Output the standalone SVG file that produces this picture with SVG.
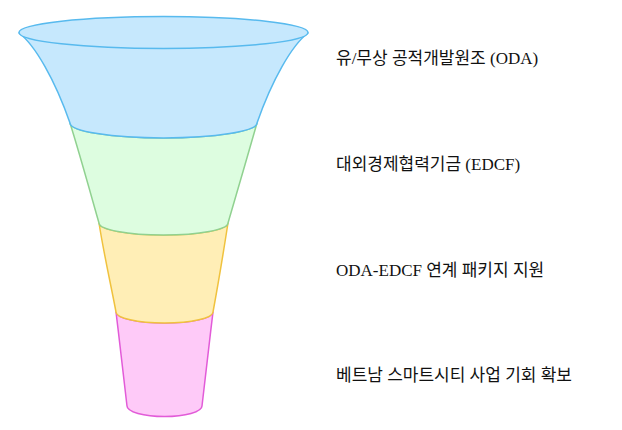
<svg xmlns="http://www.w3.org/2000/svg" width="622" height="430" viewBox="0 0 622 430">
<style>
.lbl{font-family:"Liberation Serif","Noto Sans CJK KR",serif;font-size:17px;fill:#111}
.sec{stroke-width:1.5;stroke-linejoin:round}
</style>
<rect width="622" height="430" fill="#ffffff"/>
<g id="funnel">
<g id="stage4">
<path class="sec" d="M116,312 A48.5 11 0 0 0 213,312 C209,345 205,380 202,406 A37.5 10.5 0 0 1 127,406 C124,380 120,345 116,312 Z" fill="#fecaf8" stroke="#e25bd8"/>
</g>
<g id="stage3">
<path class="sec" d="M99,223 A64.5 12 0 0 0 228,223 C223,255 218,285 213,312 A48.5 11 0 0 1 116,312 C111,285 104,255 99,223 Z" fill="#ffeeb6" stroke="#f0c23e"/>
</g>
<g id="stage2">
<path class="sec" d="M70,123 A93.5 15 0 0 0 257,123 C248,155 236,195 228,223 A64.5 12 0 0 1 99,223 C91,195 80,155 70,123 Z" fill="#ddfde0" stroke="#90d190"/>
</g>
<g id="stage1">
<path class="sec" d="M19,33 C35,45 55,80 70,123 A93.5 15 0 0 0 257,123 C272,80 292,45 308,33 Z" fill="#c6e8fd" stroke="#58baee"/>
<ellipse class="sec" cx="163.5" cy="32.5" rx="144.5" ry="16" fill="#c6e8fd" stroke="#58baee"/>
</g>
</g>
<g id="labels">
<text id="label1" class="lbl" x="336" y="64">유/무상 공적개발원조 (ODA)</text>
<text id="label2" class="lbl" x="336" y="170">대외경제협력기금 (EDCF)</text>
<text id="label3" class="lbl" x="336" y="276">ODA-EDCF 연계 패키지 지원</text>
<text id="label4" class="lbl" x="336" y="381">베트남 스마트시티 사업 기회 확보</text>
</g>
</svg>
